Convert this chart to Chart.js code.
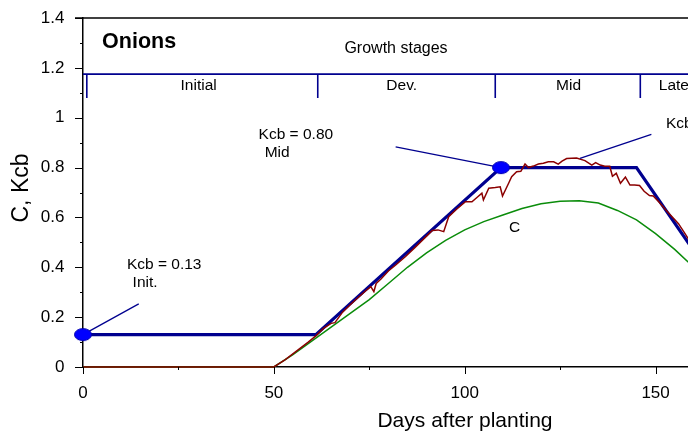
<!DOCTYPE html>
<html><head><meta charset="utf-8">
<script src="https://cdn.jsdelivr.net/npm/chart.js@4.4.1/dist/chart.umd.min.js"></script>
<style>html,body{margin:0;padding:0;overflow:hidden;background:#fff;width:688px;height:437px}#wrap{width:760px;height:437px}</style>
</head><body><div id="wrap"><canvas id="c" width="760" height="437"></canvas></div>
<script>
// ---- data ----
const xTicks = [0, 50, 100, 150];
const xMinorTicks = [25, 75, 125, 175];
const yTicks = [0, 0.2, 0.4, 0.6, 0.8, 1.0, 1.2, 1.4];
const yMinorTicks = [0.1, 0.3, 0.5, 0.7, 0.9, 1.1, 1.3];
const yTickLabels = ['0', '0.2', '0.4', '0.6', '0.8', '1', '1.2', '1.4'];

const kcbDays   = [0, 61, 109.5, 145, 163];
const kcbValues = [0.13, 0.13, 0.80, 0.80, 0.40];

const markerDays   = [0, 109.5];
const markerValues = [0.13, 0.80];

const dailyDays = [0, 50, 53, 56, 59, 61, 63, 65, 66, 68, 70, 72, 74, 75.4, 76.2, 76.8, 78, 80, 82, 84.5, 87, 90, 91.5, 93, 94.5, 95.8, 98, 100.2, 101.9, 103.2, 104.5, 104.9, 106.3, 108, 109.3, 109.9, 111.5, 112.3, 113.6, 114.7, 115.8, 116.7, 118, 119.3, 120.6, 121.9, 123.3, 124.5, 125.5, 126.7, 129.3, 131.5, 133.3, 134.3, 135.5, 136.7, 138, 138.7, 139.7, 140.8, 142.1, 143.3, 144.5, 145.8, 147, 148.4, 149.4, 151, 152.7, 154.5, 156, 157.5, 160, 163];
const dailyValues = [0, 0, 0.03, 0.065, 0.1, 0.125, 0.155, 0.175, 0.178, 0.22, 0.25, 0.278, 0.305, 0.322, 0.302, 0.335, 0.352, 0.385, 0.41, 0.443, 0.48, 0.525, 0.548, 0.55, 0.543, 0.603, 0.635, 0.663, 0.663, 0.68, 0.697, 0.67, 0.717, 0.72, 0.723, 0.686, 0.737, 0.763, 0.783, 0.785, 0.814, 0.80, 0.806, 0.814, 0.817, 0.823, 0.823, 0.814, 0.826, 0.836, 0.838, 0.828, 0.81, 0.82, 0.81, 0.805, 0.805, 0.765, 0.777, 0.737, 0.762, 0.73, 0.73, 0.728, 0.705, 0.688, 0.686, 0.66, 0.63, 0.6, 0.575, 0.54, 0.48, 0.42];

const cDays   = [0, 50, 55, 60, 65, 70, 75, 80, 85, 90, 95, 100, 105, 110, 115, 120, 125, 130, 135, 140, 145, 150, 155, 160, 163];
const cValues = [0, 0, 0.05, 0.105, 0.16, 0.215, 0.27, 0.335, 0.40, 0.458, 0.508, 0.55, 0.583, 0.61, 0.636, 0.655, 0.665, 0.667, 0.658, 0.628, 0.59, 0.535, 0.472, 0.40, 0.355];

const stageBounds = [1, 61.5, 108, 146];
const stageNames = ['Initial', 'Dev.', 'Mid', 'Late'];
const stageLabelDays = [30.3, 83.5, 127.2, 154.8];

// ---- styles / layout ----
const FONT = 'Liberation Sans, Arial, Helvetica, sans-serif';
const NAVY = '#00008f';
const RED = '#8b0000';
const GREEN = '#0a8c0a';

const stageLineY = 1.175, stageTickY = 1.079, stageLabelY = 1.127;
const leaders = [
  [[0, 0.13], [14.6, 0.253]],
  [[81.9, 0.883], [109.5, 0.80]],
  [[130.2, 0.837], [148.9, 0.933]]
];
const texts = [
  {t: 'Onions', x: 5, y: 1.304, font: 'bold 21.5px ' + FONT, align: 'left'},
  {t: 'Growth stages', x: 82, y: 1.276, font: '16px ' + FONT, align: 'center'},
  {t: 'Kcb = 0.80', x: 46, y: 0.931, font: '15.5px ' + FONT, align: 'left'},
  {t: 'Mid', x: 47.6, y: 0.858, font: '15.5px ' + FONT, align: 'left'},
  {t: 'Kcb = 0.13', x: 11.5, y: 0.409, font: '15.5px ' + FONT, align: 'left'},
  {t: 'Init.', x: 13, y: 0.337, font: '15.5px ' + FONT, align: 'left'},
  {t: 'Kcb = 0.40', x: 152.7, y: 0.975, font: '15.5px ' + FONT, align: 'left'},
  {t: 'C', x: 113.1, y: 0.558, font: '15.5px ' + FONT, align: 'center'}
];

function ellipseImage() {
  const cv = document.createElement('canvas');
  cv.width = 20; cv.height = 15;
  const g = cv.getContext('2d');
  g.beginPath();
  g.ellipse(10, 7.5, 8.5, 6, 0, 0, Math.PI * 2);
  g.fillStyle = '#0000ff';
  g.fill();
  g.lineWidth = 1;
  g.strokeStyle = '#0000b0';
  g.stroke();
  return cv;
}

const pts = (xs, ys) => xs.map((x, i) => ({x: x, y: ys[i]}));

const decor = {
  id: 'decor',
  afterDraw(chart) {
    const ctx = chart.ctx, xs = chart.scales.x, ys = chart.scales.y, a = chart.chartArea;
    const X = v => xs.getPixelForValue(v), Y = v => ys.getPixelForValue(v);
    ctx.save();
    // top frame
    ctx.strokeStyle = '#000'; ctx.lineWidth = 1.5;
    ctx.beginPath(); ctx.moveTo(a.left - 8, a.top); ctx.lineTo(chart.width, a.top); ctx.stroke();
    // ticks
    ctx.lineWidth = 1;
    ctx.beginPath();
    yTicks.forEach(v => { const p = Math.round(Y(v)) + 0.5; ctx.moveTo(a.left - 8, p); ctx.lineTo(a.left, p); });
    yMinorTicks.forEach(v => { const p = Math.round(Y(v)) + 0.5; ctx.moveTo(a.left - 3, p); ctx.lineTo(a.left, p); });
    xTicks.forEach(v => { const p = Math.round(X(v)) + 0.5; ctx.moveTo(p, a.bottom); ctx.lineTo(p, a.bottom + 7); });
    xMinorTicks.forEach(v => { const p = Math.round(X(v)) + 0.5; ctx.moveTo(p, a.bottom); ctx.lineTo(p, a.bottom + 3); });
    ctx.stroke();
    // stage bar
    ctx.strokeStyle = NAVY; ctx.lineWidth = 1.6;
    ctx.beginPath();
    ctx.moveTo(a.left, Y(stageLineY)); ctx.lineTo(chart.width, Y(stageLineY));
    stageBounds.forEach(d => { ctx.moveTo(X(d), Y(stageLineY)); ctx.lineTo(X(d), Y(stageTickY)); });
    ctx.stroke();
    ctx.fillStyle = '#000'; ctx.textBaseline = 'middle'; ctx.textAlign = 'center';
    ctx.font = '15.5px ' + FONT;
    stageNames.forEach((n, i) => ctx.fillText(n, X(stageLabelDays[i]), Y(stageLabelY)));
    // texts
    texts.forEach(o => { ctx.font = o.font; ctx.textAlign = o.align; ctx.fillText(o.t, X(o.x), Y(o.y)); });
    // axis titles
    ctx.textAlign = 'center';
    ctx.font = '21px ' + FONT;
    ctx.fillText('Days after planting', 465, 421);
    ctx.font = '23px ' + FONT;
    ctx.save(); ctx.translate(22, 188); ctx.rotate(-Math.PI / 2); ctx.fillText('C, Kcb', 0, 0); ctx.restore();
    ctx.restore();
  }
};

new Chart(document.getElementById('c'), {
  type: 'line',
  data: {
    datasets: [
      {data: pts(markerDays, markerValues), showLine: false, pointStyle: ellipseImage(), pointRadius: 8, clip: false},
      ...leaders.map(l => ({data: l.map(p => ({x: p[0], y: p[1]})), borderColor: NAVY, borderWidth: 1.3, pointRadius: 0, clip: false})),
      {data: pts(dailyDays, dailyValues), borderColor: RED, borderWidth: 1.5, pointRadius: 0, clip: false},
      {data: pts(kcbDays, kcbValues), borderColor: NAVY, borderWidth: 3.2, pointRadius: 0, clip: false},
      {data: pts(cDays, cValues), borderColor: GREEN, borderWidth: 1.5, pointRadius: 0, clip: false}
    ]
  },
  options: {
    responsive: false, animation: false, devicePixelRatio: 1,
    layout: {padding: {top: 18, right: 6.75, left: 0, bottom: 0}},
    plugins: {legend: {display: false}, tooltip: {enabled: false}},
    elements: {line: {tension: 0}},
    scales: {
      x: {
        type: 'linear', min: 0, max: 175,
        afterBuildTicks: s => { s.ticks = xTicks.map(v => ({value: v})); },
        afterFit: s => { s.height = 70; s.paddingLeft = 0; s.paddingRight = 0; },
        grid: {display: false, drawTicks: false},
        border: {display: true, color: '#000', width: 1.5},
        ticks: {font: {family: FONT, size: 17}, color: '#000', padding: 16, maxRotation: 0, autoSkip: false}
      },
      y: {
        type: 'linear', min: 0, max: 1.4,
        afterBuildTicks: s => { s.ticks = yTicks.map(v => ({value: v})); },
        afterFit: s => { s.width = 83; s.paddingTop = 0; s.paddingBottom = 0; },
        grid: {display: false, drawTicks: false},
        border: {display: true, color: '#000', width: 1.5},
        ticks: {font: {family: FONT, size: 17}, color: '#000', padding: 18.5,
                callback: (v, i) => yTickLabels[i]}
      }
    }
  },
  plugins: [decor]
});
</script></body></html>
